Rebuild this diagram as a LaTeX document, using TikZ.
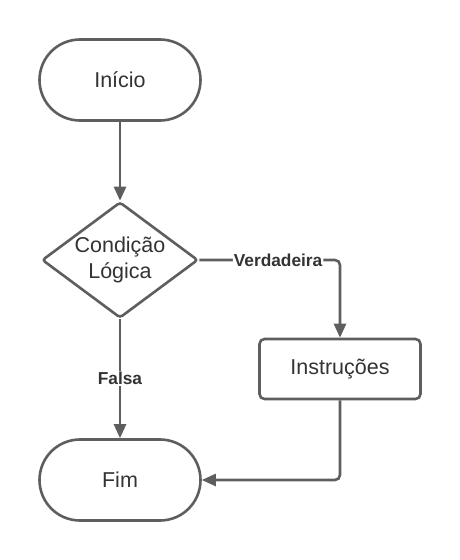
\documentclass[tikz,border=0pt]{standalone}
\usepackage{fontspec}
\setmainfont{Liberation Sans}
\usetikzlibrary{shapes.geometric,arrows.meta}
\definecolor{ln}{HTML}{5E5E5E}
\definecolor{tx}{HTML}{333333}
\begin{document}
\begin{tikzpicture}[x=1pt,y=-1pt,
  term/.style={draw=ln,line width=2.6pt,rounded corners=40.5pt,minimum width=161pt,minimum height=81pt,text=tx,font=\fontsize{21.5}{26}\selectfont,inner sep=0pt},
  proc/.style={draw=ln,line width=2.6pt,rounded corners=5pt,minimum width=161pt,minimum height=60pt,text=tx,font=\fontsize{21.5}{26}\selectfont,inner sep=0pt},
  dec/.style={draw=ln,line width=2.6pt,diamond,rounded corners=3pt,minimum width=156pt,minimum height=116pt,text=tx,font=\fontsize{21.5}{26}\selectfont,inner sep=0pt,align=center,aspect=1.35},
  arr/.style={draw=ln,line width=2.6pt,-{Triangle[length=14pt,width=12pt]}},
  lbl/.style={fill=white,text=tx,font=\fontsize{17.3}{20}\selectfont\bfseries,inner sep=1pt}]
\useasboundingbox[fill=white] (0,0) rectangle (460,560);
\node[term] (start) at (120,80) {Início};
\node[dec] (cond) at (120,260) {Condição\\Lógica};
\node[proc] (instr) at (340,369) {Instruções};
\node[term] (fim) at (120,480) {Fim};
\draw[arr] (start) -- (cond);
\draw[arr,rounded corners=5pt] (cond.east) -| node[lbl,pos=0.28]{Verdadeira} (instr.north);
\draw[arr] (cond.south) -- node[lbl]{Falsa} (fim.north);
\draw[arr,rounded corners=5pt] (instr.south) |- (fim.east);
\end{tikzpicture}
\end{document}
